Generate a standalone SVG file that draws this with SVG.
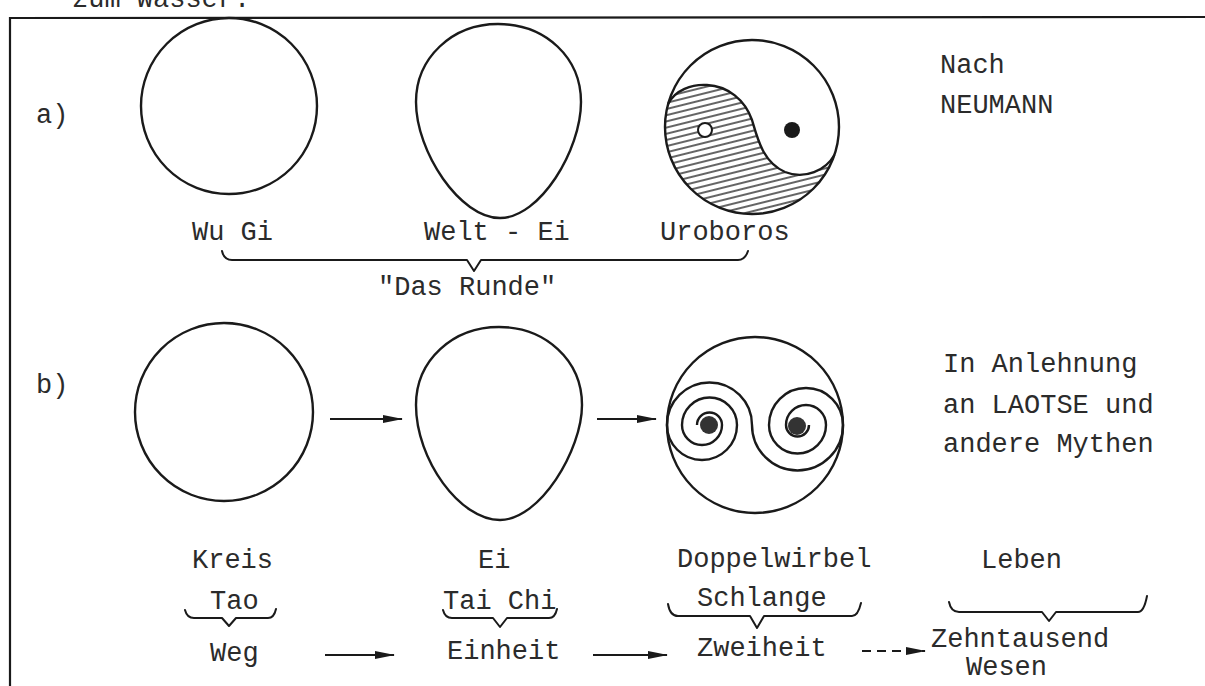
<svg xmlns="http://www.w3.org/2000/svg" width="1205" height="686" viewBox="0 0 1205 686">
<style>
  text { font-family: "Liberation Mono", "DejaVu Sans Mono", monospace; font-size: 27px; fill: #2b2b2b; }
  .shape { fill: none; stroke: #1a1a1a; stroke-width: 2.4; }
  .brace { fill: none; stroke: #1a1a1a; stroke-width: 2; stroke-linejoin: round; stroke-linecap: round; }
  .arrow { fill: none; stroke: #1a1a1a; stroke-width: 2.2; marker-end: url(#head); }
  .dashed { stroke-dasharray: 9 6; }
  .frame { fill: none; stroke: #1a1a1a; stroke-width: 2.2; }
</style>
<defs>
  <marker id="head" markerUnits="userSpaceOnUse" markerWidth="20" markerHeight="10" refX="19" refY="5" orient="auto">
    <path d="M0,1 L20,5 L0,9 Z" fill="#1a1a1a"/>
  </marker>
  <pattern id="hatch" width="6" height="6" patternUnits="userSpaceOnUse" patternTransform="rotate(-14)">
    <line x1="0" y1="3" x2="6" y2="3" stroke="#222" stroke-width="1.4"/>
  </pattern>
</defs>
<rect width="1205" height="686" fill="#fff"/>

<g id="frame">
  <text x="72" y="7" fill="#555">zum Wasser.</text>
  <path class="frame" d="M10,686 L10,18 L1205,17"/>
</g>

<g id="row-a-label"><text x="36" y="123">a)</text></g>
<g id="row-b-label"><text x="36" y="393">b)</text></g>

<g id="node-wugi">
  <circle class="shape" cx="229" cy="106" r="88"/>
  <text x="192" y="240">Wu Gi</text>
</g>
<g id="node-weltei">
  <path class="shape" d="M498,24 C546,24 581,58 581,102 C581,150 540,218 500,218 C460,218 416,152 416,102 C416,58 452,24 498,24 Z"/>
  <text x="424" y="240">Welt - Ei</text>
</g>
<g id="node-uroboros">
  <path d="M668.1,104 A87,87 0 0 0 834.4,155 C826,170 805,180 785,172 C763,162 758,140 752,120 C745,100 728,86 707,85 C692,84 675,90 668.1,104 Z" fill="url(#hatch)" stroke="none"/>
  <path class="shape" d="M834.4,155 C826,170 805,180 785,172 C763,162 758,140 752,120 C745,100 728,86 707,85 C692,84 675,90 668.1,104"/>
  <circle class="shape" cx="752" cy="127" r="87"/>
  <circle cx="705" cy="130" r="7" fill="#fff" stroke="#1a1a1a" stroke-width="2"/>
  <circle cx="792" cy="130" r="8" fill="#1a1a1a"/>
  <text x="660" y="240">Uroboros</text>
</g>
<g id="note-neumann">
  <text x="940" y="73">Nach</text>
  <text x="940" y="113">NEUMANN</text>
</g>
<g id="label-das-runde">
  <text x="378" y="295">"Das Runde"</text>
</g>

<g id="node-kreis">
  <circle class="shape" cx="224" cy="412" r="89"/>
  <text x="192" y="568">Kreis</text>
  <text x="210" y="609">Tao</text>
  <text x="210" y="661">Weg</text>
</g>
<g id="node-ei">
  <path class="shape" d="M499,327 C545,327 582,360 582,405 C582,450 540,520 500,520 C460,520 416,460 416,405 C416,360 453,327 499,327 Z"/>
  <text x="478" y="568">Ei</text>
  <text x="443" y="609">Tai Chi</text>
  <text x="447" y="659">Einheit</text>
</g>
<g id="node-doppelwirbel">
  <circle class="shape" cx="755" cy="425" r="88"/>
  <path class="shape" stroke-width="2.2" d="M697,425 A12.5,12.5 0 0 1 722,425 A20,20 0 0 1 682,425 A27.5,27.5 0 0 1 737,425 A35,35 0 0 1 667,425 A42.5,42.5 0 0 1 752,425 A45.5,45.5 0 0 0 843,425 A37,37 0 0 0 769,425 A28.5,28.5 0 0 0 826,425 A20,20 0 0 0 786,425 A11.5,11.5 0 0 0 809,425"/>
  <circle cx="709" cy="425" r="9" fill="#333"/>
  <circle cx="797" cy="426" r="9" fill="#333"/>
  <text x="677" y="567">Doppelwirbel</text>
  <text x="697" y="606">Schlange</text>
  <text x="697" y="656">Zweiheit</text>
</g>
<g id="node-leben">
  <text x="981" y="568">Leben</text>
  <text x="931" y="647">Zehntausend</text>
  <text x="966" y="675">Wesen</text>
</g>
<g id="note-laotse">
  <text x="943" y="372">In Anlehnung</text>
  <text x="943" y="413">an LAOTSE und</text>
  <text x="943" y="452">andere Mythen</text>
</g>

<g id="connectors">
  <path class="brace" d="M222,251 Q224,260 232,260 L467,260 L474,271 L481,260 L738,260 Q745,260 748,251"/>
  <path class="brace" d="M185,610 Q187,618 194,618 L222,618 L229,626 L236,618 L268,618 Q274,618 276,609"/>
  <path class="brace" d="M443,610 Q445,618 452,618 L493,618 L500,627 L507,618 L549,618 Q555,618 557,609"/>
  <path class="brace" d="M668,604 Q670,616 678,616 L750,616 L757,628 L764,616 L852,616 Q858,616 861,603"/>
  <path class="brace" d="M949,602 Q951,612 959,612 L1042,612 L1049,621 L1056,612 L1138,612 Q1144,612 1147,596"/>
  <line class="arrow" x1="330" y1="419" x2="402" y2="419"/>
  <line class="arrow" x1="597" y1="419" x2="656" y2="419"/>
  <line class="arrow" x1="325" y1="655" x2="394" y2="655"/>
  <line class="arrow" x1="593" y1="655" x2="667" y2="655"/>
  <line class="arrow dashed" x1="862" y1="651" x2="925" y2="651"/>
</g>
</svg>
